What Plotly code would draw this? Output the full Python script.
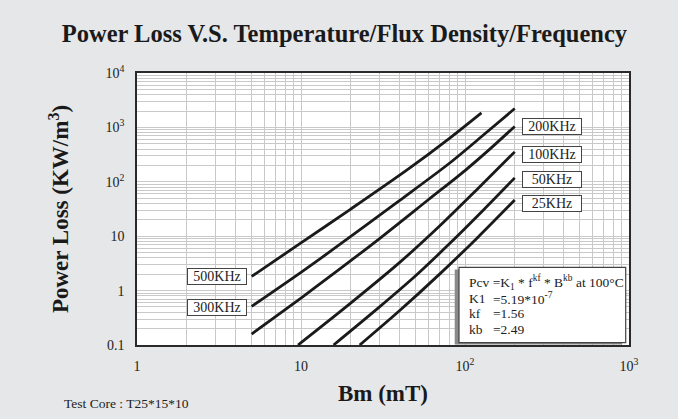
import plotly.graph_objects as go

# ---- data ----
series_names = ["500KHz", "300KHz", "200KHz", "100KHz", "50KHz", "25KHz"]
b_500k = [5, 10, 20, 45, 80, 126]
p_500k = [1.82, 7.53, 31.2, 171, 624, 1856]
b_300k = [5, 10, 15, 40, 80, 130, 201]
p_300k = [0.513, 2.17, 5.19, 45.6, 217, 731, 2221]
b_200k = [5, 10, 15, 30, 60, 100, 140, 201]
p_200k = [0.159, 0.730, 1.82, 8.96, 47.3, 161, 386, 1043]
b_100k = [9.59, 20, 40, 70, 120, 201]
p_100k = [0.1, 0.583, 3.30, 15.4, 75.5, 355]
b_50k = [15.8, 30, 50, 80, 130, 201]
p_50k = [0.1, 0.497, 1.875, 7.16, 30.7, 118]
b_25k = [22.8, 40, 70, 120, 201]
p_25k = [0.1, 0.431, 2.01, 9.60, 46.3]

x_tickvals = [1, 10, 100, 1000]
x_ticktext = ["1", "10", "10<sup>2</sup>", "10<sup>3</sup>"]
y_tickvals = [0.1, 1, 10, 100, 1000, 10000]
y_ticktext = ["0.1", "1", "10", "10<sup>2</sup>", "10<sup>3</sup>", "10<sup>4</sup>"]
minor_digits = [2, 3, 4, 5, 6, 7, 8, 9]

FONT = "Liberation Serif"
BG = "#e6e7e9"
GRID = "#c9c9c9"

xs = [b_500k, b_300k, b_200k, b_100k, b_50k, b_25k]
ys = [p_500k, p_300k, p_200k, p_100k, p_50k, p_25k]

fig = go.Figure()
for name, x, y in zip(series_names, xs, ys):
    fig.add_trace(go.Scatter(x=x, y=y, mode="lines", name=name,
                             line=dict(color="#1a1a1a", width=2.8, shape="spline", smoothing=0.8),
                             showlegend=False, hoverinfo="skip"))

x_minor = [d * 10 ** k for k in range(0, 3) for d in minor_digits]
y_minor = [d * 10.0 ** k for k in range(-1, 4) for d in minor_digits]

axis_common = dict(type="log", showline=True, mirror=True, linecolor="#2a2a2a", linewidth=1.5,
                   showgrid=True, gridcolor=GRID, gridwidth=1, zeroline=False,
                   ticks="", tickfont=dict(family=FONT, size=14, color="#222"))

fig.update_xaxes(**axis_common, range=[0, 3], tickmode="array", tickvals=x_tickvals, ticktext=x_ticktext,
                 minor=dict(tickvals=x_minor, showgrid=True, gridcolor=GRID, gridwidth=1, ticks=""),
                 ticklabelstandoff=7,
                 title=dict(text="<b>Bm (mT)</b>", font=dict(family=FONT, size=23, color="#1a1a1a"), standoff=12))
fig.update_yaxes(**axis_common, range=[-1, 4], tickmode="array", tickvals=y_tickvals, ticktext=y_ticktext,
                 minor=dict(tickvals=y_minor, showgrid=True, gridcolor=GRID, gridwidth=1, ticks=""),
                 ticklabelstandoff=8,
                 title=dict(text="<b>Power Loss (KW/m<sup>3</sup>)</b>", font=dict(family=FONT, size=23, color="#1a1a1a"), standoff=30))

W, H = 678, 419
L, R, T, B = 137, 49, 73, 74
pw, ph = W - L - R, H - T - B

def px(x):
    return (x - L) / pw

def py(y):
    return (H - B - y) / ph

annotations = []
# curve labels (boxes)
label_pos = {"500KHz": (216.7, 276.3), "300KHz": (216.7, 307.5), "200KHz": (552.3, 126.7),
             "100KHz": (552.3, 154.2), "50KHz": (552.3, 179.7), "25KHz": (552.3, 203.7)}
for name in series_names:
    cx, cy = label_pos[name]
    annotations.append(dict(text=name, x=px(cx), y=py(cy), xref="paper", yref="paper", showarrow=False,
                            xanchor="center", yanchor="middle", font=dict(family=FONT, size=14, color="#222"),
                            bgcolor="white", bordercolor="#444", borderwidth=1, borderpad=0,
                            width=58, height=15))

# formula box text
fx = px(467)
FS = 13.5
annotations.append(dict(text="Pcv =K<sub>1</sub> * f<sup>kf</sup> * B<sup>kb</sup> at 100°C", x=fx, y=py(282.3),
                        xref="paper", yref="paper", showarrow=False, xanchor="left", yanchor="middle",
                        font=dict(family=FONT, size=FS, color="#222")))
rows = [("K1", "=5.19*10<sup>-7</sup>", 298), ("kf", "=1.56", 313.7), ("kb", "=2.49", 329.7)]
for k, v, yy in rows:
    annotations.append(dict(text=k, x=fx, y=py(yy), xref="paper", yref="paper", showarrow=False,
                            xanchor="left", yanchor="middle", font=dict(family=FONT, size=FS, color="#222")))
    annotations.append(dict(text=v, x=px(490.5), y=py(yy), xref="paper", yref="paper", showarrow=False,
                            xanchor="left", yanchor="middle", font=dict(family=FONT, size=FS, color="#222")))

annotations.append(dict(text="Test Core : T25*15*10", x=px(61.7), y=py(403), xref="paper", yref="paper",
                        showarrow=False, xanchor="left", yanchor="middle", font=dict(family=FONT, size=13.5, color="#222")))

shapes = [
    dict(type="rect", xref="paper", yref="paper", x0=px(454.7), x1=px(622), y0=py(344.5), y1=py(269.5),
         fillcolor="#8a8a8a", line=dict(width=0), layer="above"),
    dict(type="rect", xref="paper", yref="paper", x0=px(459), x1=px(625.7), y0=py(342.7), y1=py(267.3),
         fillcolor="white", line=dict(color="#444", width=1.2), layer="above"),
]

fig.update_layout(
    width=W, height=H, margin=dict(l=L, r=R, t=T, b=B, pad=0),
    paper_bgcolor=BG, plot_bgcolor="white",
    title=dict(text="<b>Power Loss V.S. Temperature/Flux Density/Frequency</b>", x=0.508, xanchor="center",
               y=1 - 33 / H, yanchor="middle", font=dict(family=FONT, size=24.5, color="#1a1a1a")),
    annotations=annotations, shapes=shapes,
)

fig.write_html("out.html")
